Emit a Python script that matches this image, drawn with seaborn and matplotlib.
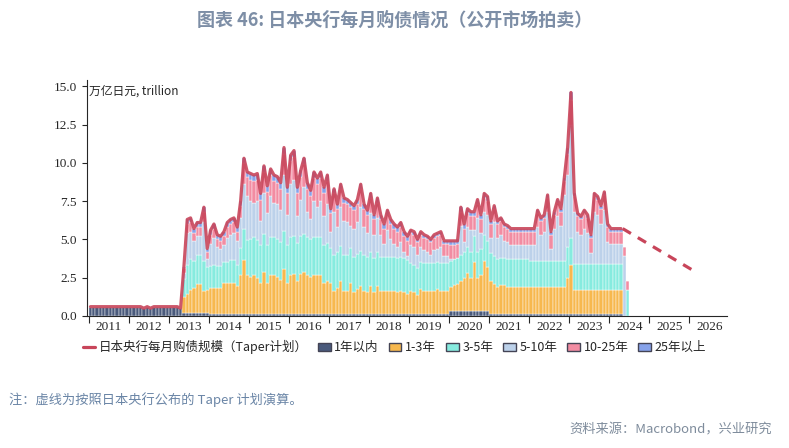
import numpy as np
import pandas as pd
import matplotlib
matplotlib.use("Agg")
import matplotlib.pyplot as plt
import seaborn as sns
from matplotlib.lines import Line2D
from matplotlib.patches import Patch

CJK = "Noto Sans CJK SC"
# monthly totals Jan 2011 .. Jun 2024 (trillion yen)
total = [0.6]*12 + \
 [0.6,0.6,0.6,0.6,0.5,0.6,0.5,0.6,0.6,0.6,0.6,0.6] + \
 [0.6,0.6,0.6,0.5,3.2,6.3,6.4,5.7,6.1,6.1,7.1,4.4] + \
 [5.6,6.0,5.3,5.2,5.5,6.1,6.3,6.4,5.8,7.5,10.3,9.4] + \
 [9.3,9.2,9.3,8.0,9.8,8.5,9.6,9.2,9.1,8.7,11.0,8.4] + \
 [10.5,10.8,8.4,9.5,10.3,8.7,8.2,9.4,9.0,9.4,8.4,9.2] + \
 [7.0,8.3,7.3,8.6,7.7,7.6,7.4,7.2,7.6,8.6,7.3,6.9] + \
 [8.0,6.6,7.7,6.6,6.0,6.9,6.3,6.0,5.8,6.1,5.5,5.2] + \
 [5.6,5.5,5.0,5.5,5.3,5.2,5.0,5.3,5.4,5.5,4.9,4.9] + \
 [4.9,4.9,4.9,7.1,6.0,7.0,6.8,6.8,7.6,6.6,8.0,7.8] + \
 [6.2,7.2,6.2,6.4,6.0,5.9,5.7,5.7,5.7,5.7,5.7,5.7] + \
 [5.7,5.7,6.9,6.4,6.6,7.9,5.5,6.8,7.6,7.0,9.0,11.0] + \
 [14.6,8.0,6.7,6.5,6.9,6.6,5.3,8.0,7.8,7.2,8.1,6.0] + \
 [5.7,5.7,5.7,5.7,4.5,2.3]
y1 = [0.6]*12 + [0.6,0.6,0.6,0.6,0.5,0.6,0.5,0.6,0.6,0.6,0.6,0.6] + \
 [0.6,0.6,0.6,0.5,0.2,0.2,0.2,0.2,0.2,0.2,0.2,0.2] + [0.15]*72 + [0.3]*12 + [0.1]*36 + [0.1,0.1,0.1,0.1,0,0]
y13 = [0]*24 + [0,0,0,0,1.0,1.2,1.5,1.6,1.9,1.9,1.4,1.5] + \
 [1.7,1.7,1.7,1.7,2.0,2.0,2.0,2.0,1.8,2.5,3.5,2.5] + \
 [2.4,2.5,2.3,2.0,2.7,2.0,2.5,2.5,2.4,2.2,2.9,2.0] + \
 [2.5,2.6,2.1,2.6,2.7,2.5,2.4,2.5,2.5,2.5,2.0,2.1] + \
 [2.0,1.5,1.7,2.1,1.5,1.5,2.0,1.4,1.6,1.8,1.5,1.4] + \
 [1.8,1.4,1.8,1.5,1.5,1.5,1.5,1.5,1.4,1.5,1.4,1.3] + \
 [1.5,1.4,1.2,1.6,1.5,1.5,1.5,1.5,1.6,1.5,1.5,1.5] + \
 [1.6,1.7,1.8,2.0,2.2,2.5,2.2,3.2,2.2,2.4,3.3,2.9] + \
 [2.2,2.0,1.8,1.9,1.9,1.8,1.8,1.8,1.8,1.8,1.8,1.8] + \
 [1.8]*11 + [2.4] + [3.2] + [1.6]*11 + [1.6,1.6,1.6,1.6,0,0]
y35 = [0]*24 + [0,0,0,0,1.2,1.9,2.0,1.8,1.9,1.9,2.0,1.5] + \
 [1.4,1.5,1.4,1.4,1.4,1.4,1.5,1.5,1.4,1.8,2.0,2.3] + [2.5]*12 + [2.5]*12 + \
 [2.3]*12 + [2.2]*12 + [1.8]*12 + [1.7]*12 + [1.8]*12 + [1.7]*11 + [2.0] + [1.8] + [1.7]*11 + [1.7,1.7,1.7,1.7,0,1.7]
y1025 = [0]*24 + [0,0,0,0,0.3,0.6,0.6,0.5,0.6,0.6,0.7,0.5] + \
 [0.6,0.6,0.5,0.5,0.6,0.7,0.7,0.7,0.6,0.8,1.4,1.3] + [1.4]*12 + [1.5]*12 + \
 [1.2]*12 + [1.0]*12 + [0.8]*12 + [0.9]*12 + [0.9]*12 + [0.9]*11 + [1.4] + [1.6] + [1.0]*11 + [0.8,0.8,0.8,0.8,0.6,0.6]
y25 = [0]*24 + [0,0,0,0,0.1,0.3,0.3,0.3,0.3,0.3,0.3,0.2] + \
 [0.3]*12 + [0.4]*12 + [0.4]*12 + [0.3]*12 + [0.3]*12 + [0.2]*12 + [0.3]*12 + [0.2]*12 + [0.2]*11 + [0.4] + [0.5] + [0.2]*11 + [0.2,0.2,0.2,0.2,0,0]
taper_x = ["2024-05", "2026-03"]
taper_y = [5.7, 2.85]
years = list(range(2011, 2027))

n = len(total)
dates = pd.date_range("2011-01-01", periods=n, freq="MS")
x = np.array([d.year + (d.month - 1) / 12 + 1/24 for d in dates])
tot = np.array(total)
parts = [np.array(a, float) for a in (y1, y13, y35, y1025, y25)]
y510 = np.clip(tot - sum(parts), 0, None)
stack = [parts[0], parts[1], parts[2], y510, parts[3], parts[4]]
names = ["1年以内", "1-3年", "3-5年", "5-10年", "10-25年", "25年以上"]
colors = ["#4a5a7c", "#f7b84e", "#86ebdf", "#bcd1ea", "#f28ca2", "#86a2ea"]

sns.set_style("ticks")
fig = plt.figure(figsize=(7.89, 4.48), dpi=100)
ax = fig.add_axes([0.110, 0.295, 0.812, 0.526])
bottom = np.zeros(n)
for s, c in zip(stack, colors):
    ax.bar(x, s, bottom=bottom, width=1/12, color=c, edgecolor="white", linewidth=0.3)
    bottom += s
line_df = pd.DataFrame({"x": x[:-2], "y": tot[:-2]})
sns.lineplot(data=line_df, x="x", y="y", ax=ax, color="#c8455a", lw=2.3, alpha=0.9)
tx = [pd.Timestamp(t).year + (pd.Timestamp(t).month - 1) / 12 for t in taper_x]
ax.plot(tx, taper_y, color="#c8455a", lw=2.3, dashes=(3, 2.5))

ax.set_xlim(2010.95, 2026.95)
ax.set_ylim(0, 15.4)
ax.set_xticks(years)
ax.set_xticklabels([])
ax.set_xticks([y + 0.5 for y in years], minor=True)
ax.set_xticklabels([str(y) for y in years], minor=True, fontfamily="Liberation Serif", fontsize=9.5)
ax.tick_params(axis="x", which="minor", length=0)
ax.tick_params(axis="x", which="major", length=5, direction="out")
ax.set_yticks([0, 2.5, 5, 7.5, 10, 12.5, 15])
ax.set_yticklabels(["0.0", "2.5", "5.0", "7.5", "10.0", "12.5", "15.0"], fontfamily="Liberation Serif", fontsize=9.5)
ax.set_xlabel(""); ax.set_ylabel("")
sns.despine(ax=ax)
ax.text(2011.0, 14.7, "万亿日元, trillion", fontfamily=CJK, fontsize=8.5, va="center")

handles = [Line2D([0], [0], color="#c8455a", lw=2.3)] + [Patch(facecolor=c, edgecolor="#445") for c in colors]
labels = ["日本央行每月购债规模（Taper计划）"] + names
fig.legend(handles, labels, loc="center", bbox_to_anchor=(0.5, 0.225), ncol=7, frameon=False,
           prop={"family": CJK, "size": 9}, handlelength=1.0, handletextpad=0.3, columnspacing=0.8)

fig.text(0.5, 0.955, "图表 46: 日本央行每月购债情况（公开市场拍卖）", ha="center", va="center",
         fontfamily=CJK, fontsize=13, fontweight="bold", color="#7d8ea6")
fig.text(0.012, 0.108, "注：虚线为按照日本央行公布的 Taper 计划演算。", fontfamily=CJK, fontsize=9.5, color="#6a85a6", va="center")
fig.text(0.978, 0.04, "资料来源：Macrobond，兴业研究", fontfamily=CJK, fontsize=9.5, color="#7f8c9c", ha="right", va="center")
fig.savefig("out.png", dpi=100)
